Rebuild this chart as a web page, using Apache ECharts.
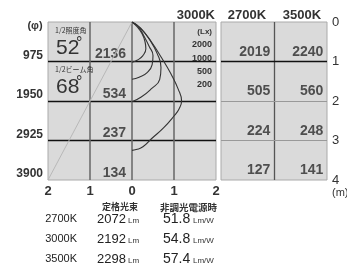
<!DOCTYPE html>
<html>
<head>
<meta charset="utf-8">
<script src="https://cdn.jsdelivr.net/npm/echarts@6/dist/echarts.min.js"></script>
<style>
  html, body { margin: 0; padding: 0; background: #fff; }
  #chart { width: 347px; height: 269px; }
</style>
</head>
<body>
<div id="chart"></div>
<script>
// 距離 (m) と 直径 (φ)
var depths = [1, 2, 3, 4];
var beamDiam = [975, 1950, 2925, 3900];
// 直下照度 (Lx)
var lux3000 = [2136, 534, 237, 134];
var lux2700 = [2019, 505, 224, 127];
var lux3500 = [2240, 560, 248, 141];
// 等照度曲線 [横距離m, 深さm]
var isoLevels = [2000, 1000, 500, 200];
var iso2000 = [[0,0],[0.12,0.12],[0.24,0.3],[0.31,0.5],[0.33,0.68],[0.26,0.85],[0.12,0.97],[0,1.02]];
var iso1000 = [[0,0],[0.15,0.12],[0.28,0.35],[0.41,0.62],[0.5,0.85],[0.48,1.08],[0.36,1.28],[0.17,1.4],[0,1.45]];
var iso500  = [[0,0],[0.2,0.15],[0.42,0.45],[0.6,0.8],[0.69,1.15],[0.66,1.45],[0.45,1.7],[0.22,1.9],[0,2.02]];
var iso200  = [[0,0],[0.22,0.18],[0.46,0.5],[0.7,0.9],[0.92,1.3],[1.1,1.7],[1.18,2.0],[1.12,2.2],[1.0,2.38],[0.75,2.68],[0.47,2.95],[0.26,3.16],[0.1,3.23],[0,3.25]];
var beamEdge = [[-2,4],[0,0]];
// 角度
var angleNames = ['1/2照度角', '1/2ビーム角'];
var angleValues = [52, 68];
// 色温度別 光束・効率
var colorTemps = ['2700K', '3000K', '3500K'];
var lumens = [2072, 2192, 2298];
var efficacy = ['51.8', '54.8', '57.4'];

var NUM = 'Liberation Sans, Arial, sans-serif';
var JP = 'Noto Sans CJK JP, sans-serif';

function txt(x, y, text, size, o) {
    o = o || {};
    return {
        type: 'text', silent: true, z: 10,
        style: {
            x: x, y: y, text: text,
            fontSize: size, fontFamily: o.family || NUM, fontWeight: o.weight || 'normal',
            fill: o.color || '#333',
            align: o.align || 'left', textAlign: o.align || 'left',
            verticalAlign: o.valign || 'middle', textVerticalAlign: o.valign || 'middle'
        }
    };
}

var myChart = echarts.init(document.getElementById('chart'));

var graphics = [];
graphics.push(txt(35, 26, '(φ)', 11, {align: 'center', weight: 'bold'}));
// 角度表示
for (var i = 0; i < angleNames.length; i++) {
    var oy = i * 39;
    graphics.push(txt(55, 30 + oy, angleNames[i], 7, {family: JP}));
    graphics.push(txt(56, 48 + oy, String(angleValues[i]), 21, {family: 'Liberation Sans Narrow, ' + NUM}));
    graphics.push(txt(76, 36 + oy, '°', 16, {valign: 'top'}));
}
// 色温度ヘッダ
graphics.push(txt(215, 15, colorTemps[1], 13, {align: 'right', weight: 'bold'}));
graphics.push(txt(247, 15, colorTemps[0], 13, {align: 'center', weight: 'bold'}));
graphics.push(txt(302, 15, colorTemps[2], 13, {align: 'center', weight: 'bold'}));
graphics.push(txt(212, 32, '(Lx)', 8, {align: 'right', weight: 'bold'}));
for (var k = 0; k < isoLevels.length; k++) {
    graphics.push(txt(212, 45 + k * 13.3, String(isoLevels[k]), 9, {align: 'right', weight: 'bold'}));
}
graphics.push(txt(332, 193, '(m)', 11));
// 下の表
graphics.push(txt(120, 207, '定格光束', 9, {align: 'center', family: JP, weight: 'bold'}));
graphics.push(txt(160, 207, '非調光電源時', 9.5, {family: JP, weight: 'bold'}));
for (var r = 0; r < colorTemps.length; r++) {
    var y = 219 + r * 20;
    graphics.push(txt(77, y, colorTemps[r], 11, {align: 'right', color: '#222'}));
    graphics.push(txt(97, y, String(lumens[r]), 13, {color: '#222'}));
    graphics.push(txt(128, y + 2, 'Lm', 8));
    graphics.push(txt(163, y, efficacy[r], 14, {color: '#222'}));
    graphics.push(txt(193, y + 2, 'Lm/W', 8));
}

function valueSeries(xi, yi, xs, vals, dy) {
    var data = [];
    for (var i = 0; i < vals.length; i++) data.push({value: [xs, depths[i] - dy], v: vals[i]});
    return {
        type: 'scatter', xAxisIndex: xi, yAxisIndex: yi, symbolSize: 0, silent: true,
        data: data,
        label: {
            show: true, position: [0, 0], align: 'right', verticalAlign: 'bottom',
            fontSize: 14, fontFamily: NUM, fontWeight: 'bold', color: '#2a2a2a',
            formatter: function (p) { return String(p.data.v); }
        }
    };
}

function isoSeries(d) {
    return {
        type: 'line', xAxisIndex: 0, yAxisIndex: 0, data: d, smooth: 0.5,
        showSymbol: false, silent: true,
        lineStyle: {color: '#333', width: 1.1}
    };
}

var option = {
    animation: false,
    backgroundColor: '#fff',
    grid: [
        {left: 48, top: 22, width: 168, height: 158, show: true, backgroundColor: '#dadada', borderColor: '#aaa', borderWidth: 1},
        {left: 221, top: 22, width: 106, height: 158, show: true, backgroundColor: '#dadada', borderColor: '#aaa', borderWidth: 1}
    ],
    xAxis: [
        {
            gridIndex: 0, type: 'value', min: -2, max: 2, interval: 1,
            axisLine: {show: false}, axisTick: {show: false},
            axisLabel: {margin: 5, fontSize: 13, fontWeight: 'bold', color: '#333', fontFamily: NUM,
                formatter: function (v) { return String(Math.abs(v)); }},
            splitLine: {show: true, showMinLine: false, showMaxLine: false, lineStyle: {color: '#666', width: 1.5}}
        },
        {
            gridIndex: 1, type: 'value', min: 0, max: 2, interval: 1,
            axisLine: {show: false}, axisTick: {show: false}, axisLabel: {show: false},
            splitLine: {show: true, showMinLine: false, showMaxLine: false, lineStyle: {color: '#555', width: 1.3}}
        }
    ],
    yAxis: [
        {
            gridIndex: 0, type: 'value', min: 0, max: 4, interval: 1, inverse: true,
            axisLine: {show: false}, axisTick: {show: false},
            axisLabel: {margin: 5, fontSize: 12, fontWeight: 'bold', color: '#333', fontFamily: NUM, verticalAlign: 'bottom',
                formatter: function (v) { return v === 0 ? '' : String(beamDiam[v - 1]); }},
            splitLine: {show: true, showMinLine: false, showMaxLine: false, lineStyle: {color: '#111', width: 1.3}}
        },
        {
            gridIndex: 1, type: 'value', min: 0, max: 4, interval: 1, inverse: true, position: 'right',
            axisLine: {show: false}, axisTick: {show: false},
            axisLabel: {margin: 5, fontSize: 13, color: '#333', fontFamily: NUM},
            splitLine: {show: false}
        }
    ],
    series: [
        {
            type: 'line', xAxisIndex: 0, yAxisIndex: 0, data: beamEdge, showSymbol: false, silent: true,
            lineStyle: {color: '#b8b8b8', width: 1}
        },
        isoSeries(iso2000), isoSeries(iso1000), isoSeries(iso500), isoSeries(iso200),
        valueSeries(0, 0, -0.14, lux3000, 0),
        (function () {
            var s = valueSeries(1, 1, 0.93, lux2700, 0.07);
            s.markLine = {
                silent: true, symbol: 'none', label: {show: false},
                data: [
                    {yAxis: 1, lineStyle: {color: '#111', width: 1.3, type: 'solid'}},
                    {yAxis: 2, lineStyle: {color: '#999', width: 1, type: 'solid'}},
                    {yAxis: 3, lineStyle: {color: '#999', width: 1, type: 'solid'}}
                ]
            };
            return s;
        })(),
        valueSeries(1, 1, 1.93, lux3500, 0.07)
    ],
    graphic: graphics
};

myChart.setOption(option);
</script>
</body>
</html>
